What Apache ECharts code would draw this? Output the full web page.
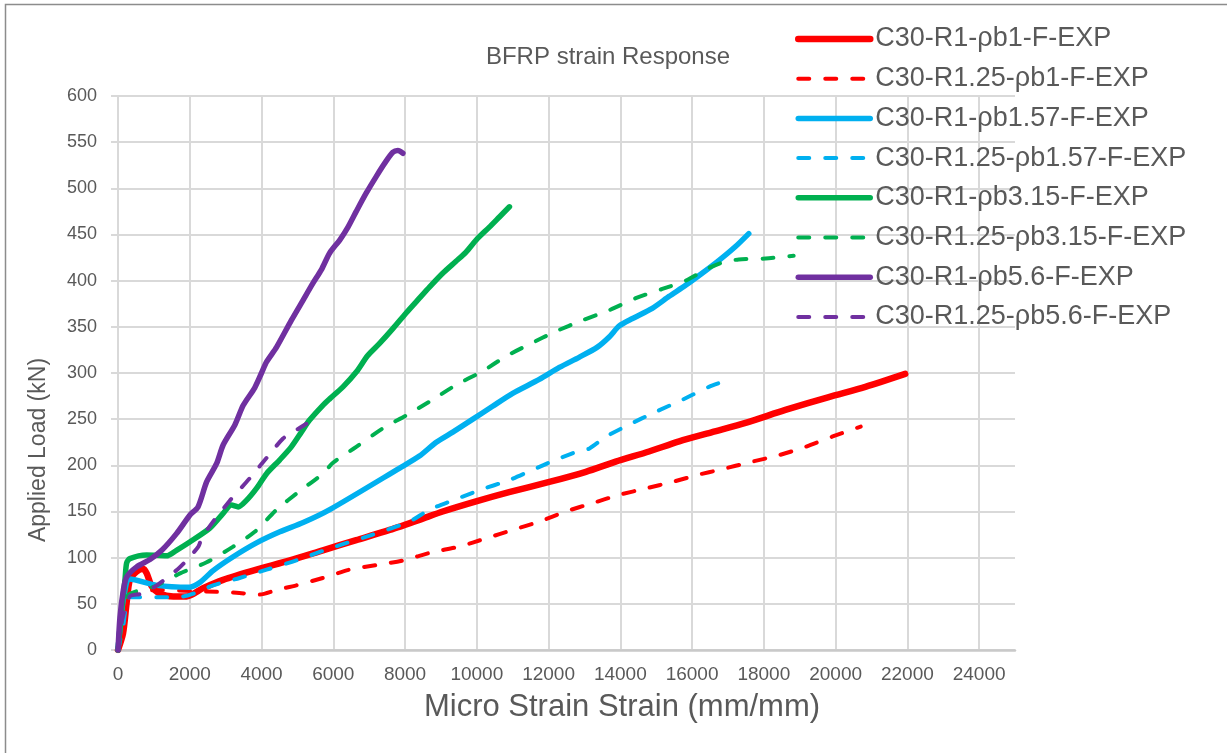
<!DOCTYPE html>
<html>
<head>
<meta charset="utf-8">
<script src="https://cdn.jsdelivr.net/npm/echarts@6/dist/echarts.min.js"></script>
<style>
  html, body { margin: 0; padding: 0; background: #ffffff; }
  #chart { width: 1227px; height: 753px; }
</style>
</head>
<body>
<div id="chart"></div>
<script>
// ---- Data (strain in micro-strain, load in kN) ----
const titleText = 'BFRP strain Response';
const xAxisTitle = 'Micro Strain Strain (mm/mm)';
const yAxisTitle = 'Applied Load (kN)';

const seriesNames = [
  'C30-R1-ρb1-F-EXP',
  'C30-R1.25-ρb1-F-EXP',
  'C30-R1-ρb1.57-F-EXP',
  'C30-R1.25-ρb1.57-F-EXP',
  'C30-R1-ρb3.15-F-EXP',
  'C30-R1.25-ρb3.15-F-EXP',
  'C30-R1-ρb5.6-F-EXP',
  'C30-R1.25-ρb5.6-F-EXP'
];

const r1_pb1 = [[0,0],[140,18],[240,51],[330,76],[520,85],[700,88],[800,83],[940,69],[1170,61],[1540,58],[1910,58],[2370,67],[2930,76],[3860,87],[4790,97],[5710,108],[6640,119],[7570,130],[8400,141],[9050,150],[9980,161],[10900,171],[12020,182],[13040,193],[13870,204],[14800,215],[15640,226],[16560,236],[17490,246],[18600,260],[19810,274],[20830,285],[21940,299]];

const r125_pb1 = [[0,0],[100,30],[240,58],[1080,65],[2000,64],[2750,63],[3300,62],[3950,60],[4420,65],[4970,70],[5710,78],[6450,87],[7200,92],[7940,97],[8770,106],[9510,112],[10260,121],[11000,130],[11740,139],[12480,150],[13220,159],[13970,168],[14710,175],[15450,182],[16190,190],[16750,195],[17680,204],[18420,211],[19160,220],[19900,231],[20700,242]];

const r1_pb157 = [[0,0],[60,25],[150,55],[330,77],[1080,70],[2000,68],[2280,73],[2650,86],[3210,101],[3860,116],[4510,128],[5160,138],[5900,152],[7850,197],[8400,210],[8870,225],[9330,236],[9890,250],[10440,264],[11000,278],[11740,293],[12300,306],[12850,317],[13360,328],[13690,339],[13970,351],[14340,359],[14890,370],[15360,383],[15820,395],[16280,408],[16750,422],[17210,437],[17580,451]];

const r125_pb157 = [[0,0],[140,25],[330,57],[1080,57],[1820,58],[2100,61],[2650,70],[3390,78],[4140,87],[4970,97],[5900,110],[7100,125],[8120,139],[8680,152],[9330,162],[10070,173],[10900,184],[11550,195],[12200,206],[12950,217],[13130,218],[13600,231],[14240,244],[14990,258],[15730,271],[16470,285],[17120,294]];

const r1_pb315 = [[0,0],[100,43],[195,76],[240,94],[330,99],[800,103],[1350,102],[1630,108],[2000,117],[2560,132],[2930,148],[3160,157],[3350,155],[3580,162],[3860,175],[4140,191],[4510,206],[4830,220],[5110,236],[5340,249],[5710,265],[5900,272],[6270,285],[6640,301],[6960,319],[7290,332],[7660,348],[8030,365],[8400,381],[8680,393],[9050,408],[9420,421],[9700,431],[9980,444],[10350,458],[10630,469],[10910,480]];

const r125_pb315 = [[0,0],[150,42],[300,60],[1030,69],[1730,83],[2470,95],[3210,112],[3810,128],[4420,152],[5060,172],[5710,191],[6000,203],[6640,220],[7380,240],[8030,254],[8680,269],[9420,287],[10160,302],[10810,318],[11460,331],[12200,345],[12940,357],[13690,368],[14430,381],[15170,391],[15820,400],[16380,412],[16800,419],[17300,423],[18050,424],[18830,427]];

const r1_pb56 = [[0,0],[56,36],[150,65],[240,79],[520,90],[890,98],[1220,108],[1630,126],[2000,146],[2230,155],[2470,182],[2750,202],[2930,222],[3260,244],[3490,265],[3810,284],[4000,300],[4140,312],[4420,328],[4830,357],[5160,379],[5430,397],[5670,412],[5900,430],[6180,444],[6410,458],[6640,475],[6920,495],[7200,513],[7430,527],[7660,539],[7800,541],[7940,538]];

const r125_pb56 = [[0,0],[100,30],[330,58],[660,61],[1080,70],[1680,88],[1910,97],[2240,112],[2330,121],[2650,139],[3120,162],[3260,168],[3670,186],[4140,208],[4600,229],[4880,236],[5250,245]];

const seriesData = [r1_pb1, r125_pb1, r1_pb157, r125_pb157, r1_pb315, r125_pb315, r1_pb56, r125_pb56];
const seriesColors = ['#FF0000','#FF0000','#00B0F0','#00B0F0','#00B050','#00B050','#7030A0','#7030A0'];
const seriesDashed = [false,true,false,true,false,true,false,true];

// ---- Chart ----
const FONT = "'Liberation Sans', Arial, sans-serif";
const chart = echarts.init(document.getElementById('chart'), null, { renderer: 'canvas' });

const series = seriesData.map((d, i) => ({
  name: seriesNames[i],
  type: 'line',
  data: d,
  showSymbol: false,
  symbol: 'none',
  smooth: 0.25,
  clip: true,
  lineStyle: seriesDashed[i]
    ? { color: seriesColors[i], width: 4, type: [11, 16], cap: 'round', join: 'round' }
    : { color: seriesColors[i], width: i === 0 ? 6.5 : 5.5, type: 'solid', cap: 'round', join: 'round' },
  itemStyle: { color: seriesColors[i] },
  emphasis: { disabled: true },
  z: 2 + i
}));

chart.setOption({
  animation: false,
  backgroundColor: '#ffffff',
  textStyle: { fontFamily: FONT },
  grid: { left: 118, right: 212, top: 96, bottom: 103, containLabel: false },
  legend: {
    orient: 'vertical',
    left: 790,
    top: 19,
    itemWidth: 72,
    itemHeight: 30,
    itemGap: 9.7,
    data: seriesNames,
    itemStyle: { opacity: 0 },
    lineStyle: { width: 'inherit', type: 'inherit', cap: 'round' },
    textStyle: { fontFamily: FONT, fontSize: 27, color: '#595959', lineHeight: 30 },
    selectedMode: false
  },
  xAxis: {
    type: 'value',
    min: 0,
    max: 25000,
    interval: 2000,
    axisLine: { show: true, lineStyle: { color: '#C9C9C9', width: 2.5 } },
    axisTick: { show: false },
    axisLabel: {
      color: '#595959', fontSize: 19, fontFamily: FONT, margin: 15,
      formatter: v => (v % 2000 === 0 ? String(v) : '')
    },
    splitLine: { show: true, showMaxLine: false, lineStyle: { color: '#D9D9D9', width: 2 } }
  },
  yAxis: {
    type: 'value',
    min: 0,
    max: 600,
    interval: 50,
    axisLine: { show: true, lineStyle: { color: '#D9D9D9', width: 2 } },
    axisTick: { show: true, length: 7, lineStyle: { color: '#D9D9D9', width: 2 } },
    axisLabel: { color: '#595959', fontSize: 18, fontFamily: FONT, margin: 21 },
    splitLine: { show: true, lineStyle: { color: '#D9D9D9', width: 2 } }
  },
  graphic: [
    { type: 'rect', silent: true, z: -1,
      shape: { x: 5.5, y: 4.5, width: 1400, height: 900 },
      style: { fill: 'none', stroke: '#8C8C8C', lineWidth: 1.5 } },
    { type: 'text', silent: true, x: 608, y: 57,
      style: { text: titleText, font: '24px ' + FONT, fill: '#595959', textAlign: 'center', textVerticalAlign: 'middle' } },
    { type: 'text', silent: true, x: 622, y: 707,
      style: { text: xAxisTitle, font: '31px ' + FONT, fill: '#595959', textAlign: 'center', textVerticalAlign: 'middle' } },
    { type: 'text', silent: true, x: 39, y: 450, rotation: Math.PI / 2,
      style: { text: yAxisTitle, font: '23px ' + FONT, fill: '#595959', textAlign: 'center', textVerticalAlign: 'middle' } }
  ],
  series: series
});
</script>
</body>
</html>
